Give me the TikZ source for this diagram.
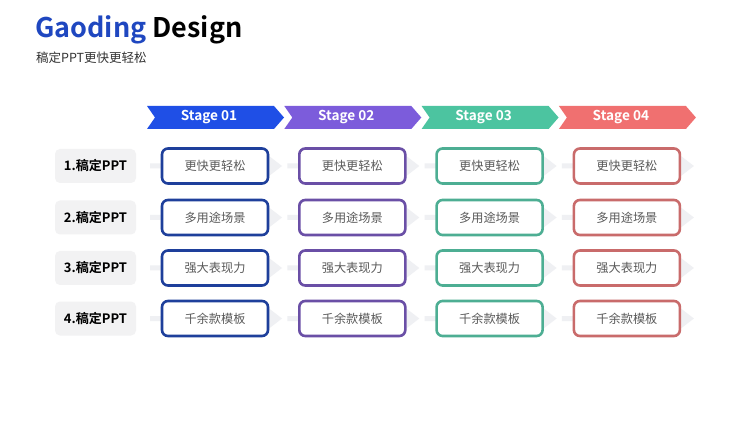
\documentclass[tikz,border=0pt]{standalone}
\usepackage{fontspec}
\setmainfont{Noto Sans CJK SC}
\newfontfamily\cjkb{Noto Sans CJK SC Bold}
\definecolor{bA}{HTML}{1F4FE6}
\definecolor{bB}{HTML}{7C5CDB}
\definecolor{bC}{HTML}{4CC4A0}
\definecolor{bD}{HTML}{F07070}
\definecolor{kA}{HTML}{1E3F9B}
\definecolor{kB}{HTML}{6A4FA6}
\definecolor{kC}{HTML}{4DAE93}
\definecolor{kD}{HTML}{C96B6B}
\definecolor{titleblue}{HTML}{1F47C0}
\definecolor{lbl}{HTML}{F2F2F3}
\definecolor{guide}{HTML}{EFF0F3}
\definecolor{boxtext}{HTML}{5A5A5A}
\tikzset{
  banner/.style={fill=#1},
  stagetext/.style={text=white, font=\cjkb\fontsize{13.6}{13.6}\selectfont, inner sep=0},
  itembox/.style={draw=#1, line width=2.6pt, rounded corners=6pt, fill=white,
    minimum width=106pt, minimum height=35pt, inner sep=0,
    text=boxtext, font=\fontsize{12.2}{12.2}\selectfont},
  rowlabel/.style={fill=lbl, rounded corners=5pt, minimum width=81pt, minimum height=34pt,
    inner sep=0, font=\cjkb\fontsize{13}{13}\selectfont, text=black},
  guidearrow/.style={fill=guide}
}
\begin{document}
\begin{tikzpicture}[x=1pt,y=-1pt]
\useasboundingbox[fill=white] (0,0) rectangle (750,422);
% title
\node[anchor=base west, inner sep=0, font=\cjkb\fontsize{27}{27}\selectfont] (title) at (35,38)
  {\textcolor{titleblue}{Gaoding} Design};
\node[anchor=base west, inner sep=0, font=\fontsize{12.5}{12.5}\selectfont, text=black!80] (subtitle) at (36,63)
  {稿定PPT更快更轻松};
% banners
\foreach \i/\L/\c in {1/147/bA, 2/284.3/bB, 3/421.6/bC, 4/558.9/bD}{
  \fill[banner=\c] (\L,106) -- (\L+127,106) -- (\L+137,117.5) -- (\L+127,129) -- (\L,129) -- (\L+8,117.5) -- cycle;
  \node[stagetext] (stage\i) at (\L+62,117.5) {Stage 0\i};
}
% rows
\foreach \r/\y/\lab in {1/166/1.稿定PPT, 2/217.5/2.稿定PPT, 3/268/3.稿定PPT, 4/318.5/4.稿定PPT}{
  \node[rowlabel] (row\r) at (95.5,\y) {\lab};
}
\foreach \r/\y/\t in {1/166/更快更轻松, 2/217.5/多用途场景, 3/268/强大表现力, 4/318.5/千余款模板}{
  \foreach \i/\L/\c in {1/147/kA, 2/284.3/kB, 3/421.6/kC, 4/558.9/kD}{
    \fill[guidearrow] (\L+3,\y-2.5) -- (\L+122,\y-2.5) -- (\L+122,\y-10) -- (\L+135,\y) -- (\L+122,\y+10) -- (\L+122,\y+2.5) -- (\L+3,\y+2.5) -- cycle;
    \node[itembox=\c] (box\r\i) at (\L+68,\y) {\t};
  }
}
\end{tikzpicture}
\end{document}
